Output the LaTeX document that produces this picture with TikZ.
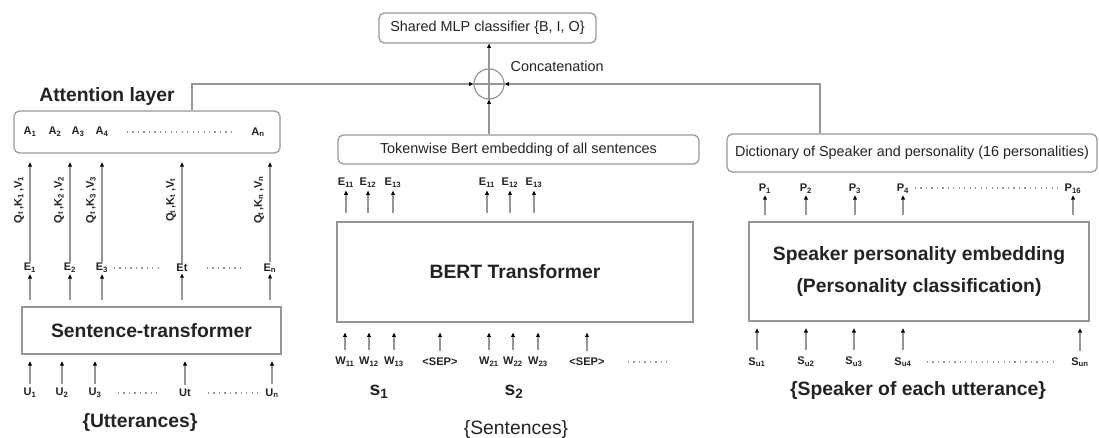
\documentclass[tikz,border=0pt]{standalone}
\usepackage{fontspec}
\setmainfont{Liberation Sans}
\usetikzlibrary{arrows.meta,positioning}
\definecolor{linegray}{RGB}{150,150,150}
\definecolor{txt}{RGB}{35,35,35}

\begin{document}
\begin{tikzpicture}[x=0.75pt,y=-0.75pt,
        box/.style={draw=linegray, line width=0.9pt, inner sep=0pt, text=txt},
        rbox/.style={box, rounded corners=4pt},
        lbl/.style={font=\fontsize{8.3}{9}\selectfont\bfseries, text=txt, inner sep=1pt},
        mid/.style={font=\fontsize{10.8}{12}\selectfont, text=txt},
        big/.style={font=\fontsize{14.5}{17}\selectfont\bfseries, text=txt},
        arr/.style={draw=linegray, line width=0.9pt, -{Triangle[length=3.2pt,width=2.8pt,color=black]}},
        dots/.style={draw=linegray, line width=0.9pt, dash pattern=on 0.9pt off 3.2pt}]
    \useasboundingbox (0,0) rectangle (1099,437);

    % top: classifier and concatenation
    \node[rbox, mid, minimum width=162.75pt, minimum height=22.5pt] (mlp) at (487.5,28) {Shared MLP classifier \{B, I, O\}};
    \node[draw=linegray, line width=0.9pt, circle, minimum size=22.5pt, inner sep=0pt] (cat) at (489,84) {};
    \draw[linegray, line width=0.9pt] (cat.north) -- (cat.south) (cat.west) -- (cat.east);
    \node[mid, anchor=west] (catlbl) at (506,66) {Concatenation};
    \draw[arr] (cat.north) -- (mlp.south -| cat.north);

    % left branch: utterances
    \node[rbox, minimum width=199.5pt, minimum height=31.5pt] (att) at (147,132) {};
    \node[big] (attlbl) at (107,96) {Attention layer};
    \node[box, big, minimum width=194.25pt, minimum height=35.25pt] (stb) at (151.5,330.5) {Sentence-transformer};
    \node[big] (utt) at (140,422) {\{Utterances\}};
    \foreach \n/\x/\t in {1/30/A\textsubscript{1}, 2/55/A\textsubscript{2}, 3/78/A\textsubscript{3}, 4/102/A\textsubscript{4}, n/258/A\textsubscript{n}}
        \node[lbl] (a\n) at (\x,132) {\t};
    \draw[dots] (127,132) -- (233,132);
    \foreach \n/\x/\t/\k in {1/30/E\textsubscript{1}/1, 2/70/E\textsubscript{2}/2, 3/102/E\textsubscript{3}/3, t/182/Et/t, n/270/E\textsubscript{n}/n} {
        \node[lbl] (e\n) at (\x,268) {\t};
        \draw[arr, shorten >=6.5pt] (e\n.north) -- (e\n.north |- att.south);
        \node[lbl, rotate=90] (q\n) at (\x-11,200) {Q\textsubscript{t}\,,K\textsubscript{\k}\,,V\textsubscript{\k}};
        \draw[arr, shorten <=5pt] (e\n.south |- stb.north) -- (e\n.south);
    }
    \draw[dots] (114,268) -- (160,268);
    \draw[dots] (207,268) -- (242,268);
    \foreach \n/\x/\t in {1/30/U\textsubscript{1}, 2/62/U\textsubscript{2}, 3/95/U\textsubscript{3}, t/185/Ut, n/272/U\textsubscript{n}} {
        \node[lbl] (u\n) at (\x,393) {\t};
        \draw[arr, shorten >=5pt, shorten <=2pt] (u\n.north) -- (u\n.north |- stb.south);
    }
    \draw[dots] (118,393) -- (160,393);
    \draw[dots] (208,393) -- (258,393);

    % middle branch: sentences
    \node[rbox, mid, minimum width=270.75pt, minimum height=21.75pt] (tok) at (518.5,149.5) {Tokenwise Bert embedding of all sentences};
    \node[box, big, minimum width=267pt, minimum height=75pt] (bert) at (515,272) {BERT Transformer};
    \draw[arr] (cat.south |- tok.north) -- (cat.south);
    \foreach \n/\x/\t in {a/346/E\textsubscript{11}, b/368/E\textsubscript{12}, c/393/E\textsubscript{13}, d/487/E\textsubscript{11}, e/510/E\textsubscript{12}, f/534/E\textsubscript{13}} {
        \node[lbl] (t\n) at (\x,183) {\t};
        \draw[arr, shorten <=6pt, shorten >=1pt] (t\n.south |- bert.north) -- (t\n.south);
    }
    \foreach \n/\x/\t in {a/345/W\textsubscript{11}, b/369/W\textsubscript{12}, c/394/W\textsubscript{13}, d/440/<SEP>, e/489/W\textsubscript{21}, f/513/W\textsubscript{22}, g/538/W\textsubscript{23}, h/587/<SEP>} {
        \node[lbl] (w\n) at (\x,362) {\t};
        \draw[arr, shorten >=7.5pt, shorten <=4pt] (w\n.north) -- (w\n.north |- bert.south);
    }
    \draw[dots] (628,362) -- (670,362);
    \node[big] (s1) at (379,392) {s\textsubscript{1}};
    \node[big] (s2) at (514,392) {s\textsubscript{2}};
    \node[font=\fontsize{14.5}{17}\selectfont, text=txt] (sent) at (516,429) {\{Sentences\}};

    % right branch: speakers
    \node[rbox, mid, minimum width=277.5pt, minimum height=28.5pt] (dict) at (912,153) {Dictionary of Speaker and personality (16 personalities)};
    \node[box, big, minimum width=255pt, minimum height=74.25pt, align=center] (spk) at (919,271.5) {Speaker personality embedding\\[6.5pt](Personality classification)};
    \coordinate (jl) at (192,84);
    \coordinate (jr) at (820,84);
    \draw[arr] (jl |- att.north) -- (jl) -- (cat.west);
    \draw[arr] (jr |- dict.north) -- (jr) -- (cat.east);
    \foreach \n/\x/\t in {1/765/P\textsubscript{1}, 2/806/P\textsubscript{2}, 3/855/P\textsubscript{3}, 4/903/P\textsubscript{4}, n/1073/P\textsubscript{16}} {
        \node[lbl] (p\n) at (\x,189) {\t};
        \draw[arr, shorten <=5pt] (p\n.south |- spk.north) -- (p\n.south);
    }
    \draw[dots] (915,188) -- (1060,188);
    \foreach \n/\x/\t in {1/757/S\textsubscript{u1}, 2/806/S\textsubscript{u2}, 3/854/S\textsubscript{u3}, 4/903/S\textsubscript{u4}, n/1080/S\textsubscript{un}} {
        \node[lbl] (su\n) at (\x,362) {\t};
        \draw[arr, shorten >=5pt, shorten <=4pt] (su\n.north) -- (su\n.north |- spk.south);
    }
    \draw[dots] (927,362) -- (1053,362);
    \node[big] (spkr) at (918,390) {\{Speaker of each utterance\}};
\end{tikzpicture}
\end{document}
